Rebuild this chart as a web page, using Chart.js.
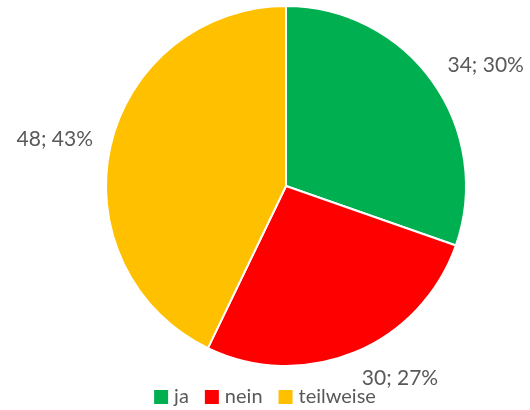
<!DOCTYPE html>
<html>
<head>
<meta charset="utf-8">
<script src="https://cdn.jsdelivr.net/npm/chart.js@4"></script>
<style>
  html, body { margin: 0; padding: 0; background: #fff; }
  #wrap { width: 530px; height: 410px; }
</style>
</head>
<body>
<div id="wrap"><canvas id="pie" width="530" height="410"></canvas></div>
<script>
// values
const categories = ['ja', 'nein', 'teilweise'];
const counts = [34, 30, 48];
const sliceColors = ['#00B050', '#FF0000', '#FFC000'];

const textColor = '#595959';
const fontFamily = 'Lato, "Open Sans", sans-serif';

// "n; p%" outside each slice, roughly like Excel's best-fit labels
const outsideLabels = {
    id: 'outsideLabels',
    afterDatasetsDraw(chart) {
        const ctx = chart.ctx;
        const meta = chart.getDatasetMeta(0);
        const data = chart.data.datasets[0].data;
        const total = data.reduce((a, b) => a + b, 0);
        ctx.save();
        ctx.font = '21px ' + fontFamily;
        ctx.fillStyle = textColor;
        ctx.textAlign = 'center';
        ctx.textBaseline = 'middle';
        meta.data.forEach((arc, i) => {
            const p = arc.getProps(['x', 'y', 'startAngle', 'endAngle', 'outerRadius'], true);
            const mid = (p.startAngle + p.endAngle) / 2;
            const cos = Math.cos(mid), sin = Math.sin(mid);
            const label = data[i] + '; ' + Math.round(data[i] / total * 100) + '%';
            const w = ctx.measureText(label).width;
            const r = p.outerRadius + 18;
            const cx = p.x + cos * r + Math.sign(cos) * w / 2;
            const cy = p.y + sin * r + sin * 10;
            ctx.fillText(label, cx, cy);
        });
        ctx.restore();
    }
};

// bottom legend, centred on the canvas (the pie itself sits right of centre)
const bottomLegend = {
    id: 'bottomLegend',
    afterDraw(chart) {
        const ctx = chart.ctx;
        const ds = chart.data.datasets[0];
        const box = 14, gap = 6, itemGap = 16;
        const y = 397;
        ctx.save();
        ctx.font = '20px ' + fontFamily;
        ctx.textBaseline = 'middle';
        ctx.textAlign = 'left';
        const widths = chart.data.labels.map(t => ctx.measureText(t).width);
        let total = 0;
        widths.forEach(w => { total += box + gap + w; });
        total += itemGap * (widths.length - 1);
        let x = chart.width / 2 - total / 2;
        chart.data.labels.forEach((t, i) => {
            ctx.fillStyle = ds.backgroundColor[i];
            ctx.fillRect(x, y - box / 2, box, box);
            ctx.fillStyle = textColor;
            ctx.fillText(t, x + box + gap, y);
            x += box + gap + widths[i] + itemGap;
        });
        ctx.restore();
    }
};

const chart = new Chart(document.getElementById('pie'), {
    type: 'pie',
    data: {
        labels: categories,
        datasets: [{
            data: counts,
            backgroundColor: sliceColors,
            borderColor: '#ffffff',
            borderWidth: 2
        }]
    },
    options: {
        responsive: false,
        animation: false,
        layout: { padding: { left: 42, right: 0, top: 5, bottom: 43 } },
        plugins: {
            tooltip: { enabled: false },
            legend: { display: false }
        }
    },
    plugins: [outsideLabels, bottomLegend]
});
</script>
</body>
</html>
